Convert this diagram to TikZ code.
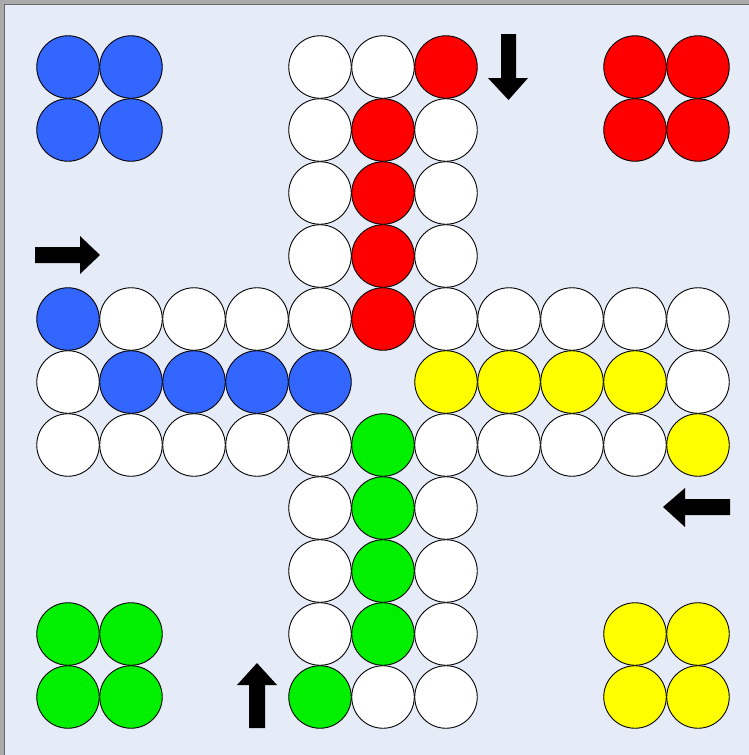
\documentclass[tikz,border=0pt]{standalone}
\definecolor{bg}{RGB}{230,236,247}
\definecolor{frame}{RGB}{170,170,170}
\definecolor{ludoblue}{RGB}{51,102,255}
\definecolor{ludored}{RGB}{255,0,0}
\definecolor{ludoyellow}{RGB}{255,255,0}
\definecolor{ludogreen}{RGB}{0,240,0}
\tikzset{
  field/.style={circle, draw=black, line width=0.9pt, minimum size=62.5pt, inner sep=0pt, fill=white},
  arrowshape/.style={fill=black, draw=none}
}
\begin{document}
\begin{tikzpicture}[x=1pt,y=-1pt]
\useasboundingbox (0,0) rectangle (749,755);
\fill[frame] (0,0) rectangle (749,755);
\fill[bg] (5,5) rectangle (749,755);
\draw[black!60, line width=1pt] (4.5,755) -- (4.5,4.5) -- (749,4.5);
% white track fields
\foreach \c/\r in {4/0,5/0,4/1,6/1,4/2,6/2,4/3,6/3,
  1/4,2/4,3/4,4/4,6/4,7/4,8/4,9/4,10/4,
  0/5,10/5,
  0/6,1/6,2/6,3/6,4/6,6/6,7/6,8/6,9/6,
  4/7,6/7,4/8,6/8,4/9,6/9,5/10,6/10}
  \node[field] (w-\c-\r) at ({68+63*\c},{67+63*\r}) {};
% blue
\foreach \c/\r in {0/0,1/0,0/1,1/1,0/4,1/5,2/5,3/5,4/5}
  \node[field, fill=ludoblue] (b-\c-\r) at ({68+63*\c},{67+63*\r}) {};
% red
\foreach \c/\r in {9/0,10/0,9/1,10/1,6/0,5/1,5/2,5/3,5/4}
  \node[field, fill=ludored] (r-\c-\r) at ({68+63*\c},{67+63*\r}) {};
% yellow
\foreach \c/\r in {9/9,10/9,9/10,10/10,10/6,6/5,7/5,8/5,9/5}
  \node[field, fill=ludoyellow] (y-\c-\r) at ({68+63*\c},{67+63*\r}) {};
% green
\foreach \c/\r in {0/9,1/9,0/10,1/10,4/10,5/6,5/7,5/8,5/9}
  \node[field, fill=ludogreen] (g-\c-\r) at ({68+63*\c},{67+63*\r}) {};
% arrows
\fill[arrowshape] (501,34) -- (516,34) -- (516,78) -- (528,78) -- (508.5,100) -- (488,78) -- (501,78) -- cycle;
\fill[arrowshape] (35,247) -- (80,247) -- (80,236) -- (100,255) -- (80,274) -- (80,263) -- (35,263) -- cycle;
\fill[arrowshape] (249,728) -- (249,685) -- (237,685) -- (257,663) -- (277,685) -- (265,685) -- (265,728) -- cycle;
\fill[arrowshape] (730,499) -- (685,499) -- (685,488) -- (663,507) -- (685,527) -- (685,515) -- (730,515) -- cycle;
\end{tikzpicture}
\end{document}
